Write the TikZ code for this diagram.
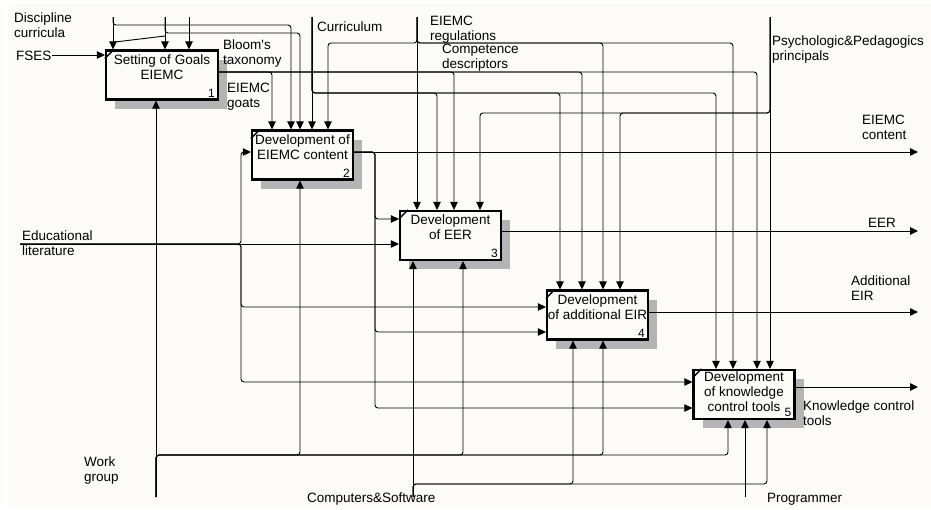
\documentclass[tikz,border=0pt]{standalone}
\usepackage{fontspec}
\setmainfont{Liberation Sans}
\usetikzlibrary{calc}
\usetikzlibrary{arrows.meta, positioning, shadows, patterns}
\tikzset{>={Triangle[length=8pt,width=7.5pt]}}
\definecolor{paper}{RGB}{253,251,247}
\definecolor{shade}{RGB}{180,180,180}

\begin{document}
\begin{tikzpicture}[x=1pt, y=-1pt,
    fn/.style={draw, line width=2.2pt, fill=paper, minimum width=101pt, minimum height=49pt,
      general shadow={shadow xshift=9pt, shadow yshift=-9pt, fill=shade}},
    ft/.style={anchor=north, align=center, inner sep=0pt, font=\fontsize{13.5}{15}\selectfont},
    fnum/.style={anchor=south east, inner sep=0pt, font=\fontsize{12}{12}\selectfont},
    lbl/.style={anchor=north west, align=left, inner sep=0pt, font=\fontsize{13.5}{15}\selectfont},
    conn/.style={line width=0.9pt, rounded corners=3pt}]
  \fill[white] (0,0) rectangle (931,509);
  \fill[paper] (8,4) rectangle (931,506);
  \useasboundingbox (0,0) rectangle (931,509);

  \node[fn, minimum width=112pt] (b1) at (162,75) {};
  \node[fn] (b2) at (302.5,155) {};
  \node[fn] (b3) at (450.5,235.5) {};
  \node[fn] (b4) at (597.5,315) {};
  \node[fn] (b5) at (744,394.5) {};
  \foreach \b in {b1,b2,b3,b4,b5}
    \draw[line width=1.4pt] ([yshift=-9pt]\b.north west) -- ([xshift=9pt]\b.north west);

  \node[ft] (t1) at ([yshift=-5pt]b1.north) {Setting of Goals\\EIEMC};
  \node[ft] (t2) at ([yshift=-5pt]b2.north) {Development of\\EIEMC content};
  \node[ft] (t3) at ([yshift=-5pt]b3.north) {Development\\of EER};
  \node[ft] (t4) at ([yshift=-5pt]b4.north) {Development\\of additional EIR};
  \node[ft] (t5) at ([yshift=-3pt]b5.north) {Development\\of knowledge\\control tools};
  \node[fnum] (n1) at ([shift={(-4pt,3pt)}]b1.south east) {1};
  \node[fnum] (n2) at ([shift={(-4pt,3pt)}]b2.south east) {2};
  \node[fnum] (n3) at ([shift={(-4pt,3pt)}]b3.south east) {3};
  \node[fnum] (n4) at ([shift={(-4pt,3pt)}]b4.south east) {4};
  \node[fnum] (n5) at ([shift={(-4pt,3pt)}]b5.south east) {5};

  \coordinate (dis) at (113,17);
  \coordinate (blm) at (165,17);
  \coordinate (tax) at (189,17);
  \coordinate (cur) at (312,17);
  \coordinate (reg) at (417,17);
  \coordinate (psy) at (770,17);
  \coordinate (fses) at (52,55);
  \coordinate (edu) at (20,244);
  \coordinate (wg) at (156,497);
  \coordinate (cs) at (413,497);
  \coordinate (prg) at (745,497);
  \coordinate (o2) at (918,152);
  \coordinate (o3) at (918,231);
  \coordinate (o4) at (918,312);
  \coordinate (o5) at (918,387);

  \draw[conn,->] (dis) -- (dis |- b1.north);
  \draw[conn,->] (blm) -- (blm |- b1.north);
  \draw[conn,->] (tax) -- (tax |- b1.north);
  \draw[conn] (165,36) -- (115,42);
  \draw[conn,->] (dis) |- (291,25) -- (b2.north -| 291,0);
  \draw[conn,->] (blm) |- (300,33) -- (b2.north -| 300,0);

  \draw[conn,->] (cur) -- (cur |- b2.north);
  \draw[conn,->] (cur) |- (437,93) -- (b3.north -| 437,0);
  \draw[conn,->] (cur) |- (560,93) -- (b4.north -| 560,0);
  \draw[conn,->] (cur) |- (716,93) -- (b5.north -| 716,0);
  \draw[conn,->] (reg) -- (reg |- b3.north);
  \draw[conn,->] (reg) |- (328,43) -- (b2.north -| 328,0);
  \draw[conn,->] (reg) |- (603,43) -- (b4.north -| 603,0);
  \draw[conn,->] (reg) |- (733,43) -- (b5.north -| 733,0);
  \draw[conn,->] (psy) -- (psy |- b5.north);
  \draw[conn,->] (psy) |- (480,113) -- (b3.north -| 480,0);
  \draw[conn,->] (psy) |- (620,113) -- (b4.north -| 620,0);

  \draw[conn,->] (b1.east |- 0,72) -| (b2.north -| 272,0);
  \draw[conn,->] (b1.east |- 0,72) -| (b3.north -| 454,0);
  \draw[conn,->] (b1.east |- 0,72) -| (b4.north -| 582,0);
  \draw[conn,->] (b1.east |- 0,72) -| (b5.north -| 757,0);

  \draw[conn,->] (fses) -- (b1.west |- fses);
  \draw[conn,->] (edu) -- (b3.west |- edu);
  \draw[conn,->] (edu) -| (241,152) -- (b2.west |- 0,152);
  \draw[conn,->] (edu) -| (241,307) -- (b4.west |- 0,307);
  \draw[conn,->] (edu) -| (241,382) -- (b5.west |- 0,382);

  \draw[conn,->] (b2.east |- o2) -- (o2);
  \draw[conn,->] (b2.east |- o2) -| (375,219) -- (b3.west |- 0,219);
  \draw[conn,->] (b2.east |- o2) -| (375,332) -- (b4.west |- 0,332);
  \draw[conn,->] (b2.east |- o2) -| (375,408) -- (b5.west |- 0,408);
  \draw[conn,->] (b3.east |- o3) -- (o3);
  \draw[conn,->] (b4.east |- o4) -- (o4);
  \draw[conn,->] (b5.east |- o5) -- (o5);

  \draw[conn,->] (wg) -- (wg |- b1.south);
  \draw[conn,->] (wg) |- (300,455) -- (b2.south -| 300,0);
  \draw[conn,->] (wg) |- (463,455) -- (b3.south -| 463,0);
  \draw[conn,->] (wg) |- (603,455) -- (b4.south -| 603,0);
  \draw[conn,->] (wg) |- (728,455) -- (b5.south -| 728,0);
  \draw[conn,->] (cs) -- (cs |- b3.south);
  \draw[conn,->] (cs) |- (573,484) -- (b4.south -| 573,0);
  \draw[conn,->] (cs) |- (767,484) -- (b5.south -| 767,0);
  \draw[conn,->] (prg) -- (prg |- b5.south);

  \node[lbl] (l-dis) at (14,13) {Discipline\\curricula};
  \node[lbl] (l-fses) at (16,51) {FSES};
  \node[lbl] (l-blm) at (223,40) {Bloom\textquotesingle s\\taxonomy};
  \node[lbl] (l-gl) at (227,83) {EIEMC\\goats};
  \node[lbl] (l-cur) at (317,22) {Curriculum};
  \node[lbl] (l-reg) at (430,16) {EIEMC\\regulations};
  \node[lbl] (l-cmp) at (442,44) {Competence\\descriptors};
  \node[lbl] (l-psy) at (772,36) {Psychologic\&Pedagogics\\principals};
  \node[lbl] (l-o2) at (862,115) {EIEMC\\content};
  \node[lbl] (l-edu) at (22,231) {Educational\\literature};
  \node[lbl] (l-o3) at (868,218) {EER};
  \node[lbl] (l-o4) at (851,276) {Additional\\EIR};
  \node[lbl] (l-o5) at (803,401) {Knowledge control\\tools};
  \node[lbl] (l-wg) at (84,457) {Work\\group};
  \node[lbl] (l-cs) at (307,493) {Computers\&Software};
  \node[lbl] (l-prg) at (767,493) {Programmer};
\end{tikzpicture}
\end{document}
